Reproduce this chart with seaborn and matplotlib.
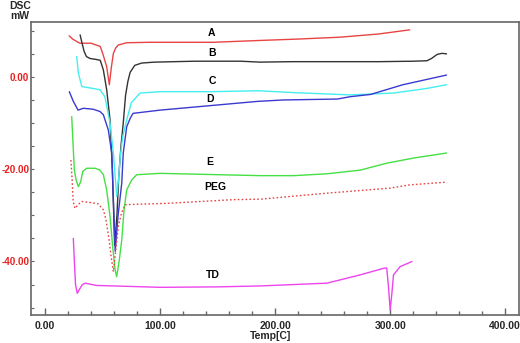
## DSC thermogram recreation
import numpy as np
import pandas as pd
import matplotlib
matplotlib.use("Agg")
import matplotlib.pyplot as plt
import seaborn as sns
from matplotlib.ticker import MultipleLocator, FormatStrFormatter

## Curve data (temperature in C, heat flow in mW)
temp_A = [21, 24, 28, 30.4, 40, 48, 50.5, 53.6, 55.9, 57.5, 59.4, 61.5, 63.7, 71, 90, 146, 187, 220, 256, 290, 305, 317]
dsc_A = [8.9, 8.2, 7.6, 7.3, 7.3, 6.6, 4.8, 2.2, -1.7, 1.8, 5.1, 6.3, 6.9, 7.4, 7.5, 7.5, 7.9, 8.2, 8.6, 9.3, 9.8, 10.2]

temp_B = [30.5, 32, 34, 36, 39, 44, 48, 50.7, 53.6, 56.5, 58.5, 60.5, 62.5, 64, 66, 68, 70, 72, 74, 78, 84, 95,
          130, 170, 187, 215, 250, 290, 320, 332, 336, 341, 345, 349]
dsc_B = [9.1, 7.5, 5.5, 4.4, 4.0, 3.8, 3.6, 1.5, -2.8, -9.3, -20, -36.5, -30, -22, -15, -10, -4, -1, 1, 2.5, 3.0, 3.2,
         3.4, 3.4, 3.2, 3.3, 3.3, 3.3, 3.4, 3.5, 4.0, 4.9, 5.1, 5.0]

temp_C = [27.5, 29, 32, 41.7, 47.8, 52, 56.5, 59.4, 62.3, 64, 65.5, 67.5, 71, 75, 82.6, 100, 146, 185, 216, 265, 303, 332, 349]
dsc_C = [4.4, 0.8, -2.1, -2.5, -2.8, -4.3, -10, -16.5, -25.9, -22, -17, -13, -9.3, -5.6, -3.5, -3.2, -3.2, -3.0, -3.4, -3.9, -3.5, -2.5, -1.7]

temp_D = [21.1, 24.6, 28.7, 33.3, 41.7, 47.8, 50.7, 55, 58, 61, 63.5, 66.7, 68, 71, 74, 76.5, 100, 185, 207, 254, 265, 283, 311, 349]
dsc_D = [-3.2, -5.3, -7.2, -6.8, -7.0, -7.5, -8.2, -11.5, -16.5, -37.8, -30, -23, -16.5, -10.8, -9, -7.9, -7.2, -5.3, -5.0, -4.8, -4.3, -3.8, -1.7, 0.4]

temp_E = [23.2, 24.6, 25.5, 27, 29, 31, 32.8, 36.2, 43.5, 47.8, 50.7, 53.6, 56.5, 58.8, 60.9, 62.3, 64.6, 66.7, 68.7, 71, 75.4,
          79.7, 100, 187, 216, 245, 274, 297, 320, 349]
dsc_E = [-8.6, -15.8, -20.2, -22.3, -23.8, -22.7, -20.5, -19.8, -19.8, -20.2, -21.2, -24.5, -30.2, -36.8, -41.8, -43.3, -39.6, -35.3, -28.8, -24.5, -22.3,
         -21.2, -20.9, -21.4, -21.4, -21.0, -20.2, -18.7, -17.6, -16.5]

temp_PEG = [22.5, 23.5, 24.5, 26, 29, 32, 39, 46, 50.7, 53, 55.5, 57.5, 59.4, 61.5, 63.7, 66.5, 69.6, 80, 106, 164, 187, 245, 300, 317, 349]
dsc_PEG = [-18.0, -22, -27, -28.5, -27.6, -27.0, -27.2, -27.5, -28.8, -31, -35, -39, -42.2, -37.5, -32.4, -29.5, -27.7, -27.6, -27.4, -26.6, -26.5, -25.2, -24.1, -23.4, -22.8]

temp_TD = [24.6, 25.5, 26.5, 28, 30, 32.5, 35, 45, 60, 100, 150, 187, 245, 274, 294, 297, 298.5, 300, 301.5, 302.9, 308.7, 319]
dsc_TD = [-35, -40, -45, -46.9, -46, -45, -44.7, -45.2, -45.3, -45.6, -45.5, -45.3, -44.7, -42.9, -41.5, -41.4, -45.4, -50.5, -46.9, -42.9, -41.1, -40]

sample_names = ["A", "B", "C", "D", "E", "PEG", "TD"]
sample_colors = ["#e84444", "#333333", "#44eeee", "#3a3ad0", "#44e044", "#e84444", "#ee44ee"]

# label positions (temp, dsc) for the curve names
label_temp = [145, 145, 145, 143.5, 143.5, 148, 146]
label_dsc = [9.5, 5.2, -0.9, -4.8, -18.4, -23.8, -43.0]

## Build one long table
curves = {"A": (temp_A, dsc_A), "B": (temp_B, dsc_B), "C": (temp_C, dsc_C), "D": (temp_D, dsc_D),
          "E": (temp_E, dsc_E), "PEG": (temp_PEG, dsc_PEG), "TD": (temp_TD, dsc_TD)}
frames = []
for name in sample_names:
    t, d = curves[name]
    frames.append(pd.DataFrame({"temp": t, "dsc": d, "sample": name}))
dscData = pd.concat(frames, ignore_index=True)

sns.set_style("white")
plt.rcParams["font.family"] = ["Liberation Sans", "DejaVu Sans"]
plt.rcParams["axes.unicode_minus"] = False

fig = plt.figure(figsize=(5.2, 3.43), dpi=100)
ax = fig.add_axes([0.0596, 0.0816, 0.9385, 0.8543])

for name, color in zip(sample_names, sample_colors):
    sub = dscData[dscData["sample"] == name]
    style = (0, (1.2, 1.6)) if name == "PEG" else "-"
    sns.lineplot(data=sub, x="temp", y="dsc", ax=ax, color=color, linewidth=1.0,
                 linestyle=style, sort=False, estimator=None)

for name, lt, ld in zip(sample_names, label_temp, label_dsc):
    ax.text(lt, ld, name, fontsize=7.5, fontweight="bold", ha="center", va="center", color="black")

ax.set_xlim(-12.2, 412)
ax.set_ylim(-51.6, 11.9)
ax.set_xlabel("")
ax.set_ylabel("")

ax.xaxis.set_major_locator(MultipleLocator(100))
ax.xaxis.set_minor_locator(MultipleLocator(20))
ax.yaxis.set_major_locator(MultipleLocator(20))
ax.yaxis.set_minor_locator(MultipleLocator(5))
ax.xaxis.set_major_formatter(FormatStrFormatter("%.2f"))
ax.yaxis.set_major_formatter(FormatStrFormatter("%.2f"))

ax.tick_params(axis="x", which="major", direction="in", length=5, width=1, color="#666666",
               labelsize=7.5, pad=4, bottom=True)
ax.tick_params(axis="x", which="minor", direction="in", length=3, width=1, color="#666666", bottom=True)
ax.tick_params(axis="y", which="both", direction="in", length=2, width=0.8, color="#666666",
               labelsize=7.1, pad=1.2, left=True, labelcolor="#e82020")
for lbl in ax.get_xticklabels() + ax.get_yticklabels():
    lbl.set_fontweight("bold")

for side in ["left", "right", "top", "bottom"]:
    ax.spines[side].set_visible(True)
    ax.spines[side].set_color("#666666")
    ax.spines[side].set_linewidth(1.2)

fig.text(20 / 520, 1 - 6 / 343, "DSC", fontsize=7.5, fontweight="bold", ha="center", va="center")
fig.text(20 / 520, 1 - 16 / 343, "mW", fontsize=7.5, fontweight="bold", ha="center", va="center")
fig.text(271 / 520, 1 - 336 / 343, "Temp[C]", fontsize=7.5, fontweight="bold", ha="center", va="center")

fig.savefig("out.png", dpi=100)
